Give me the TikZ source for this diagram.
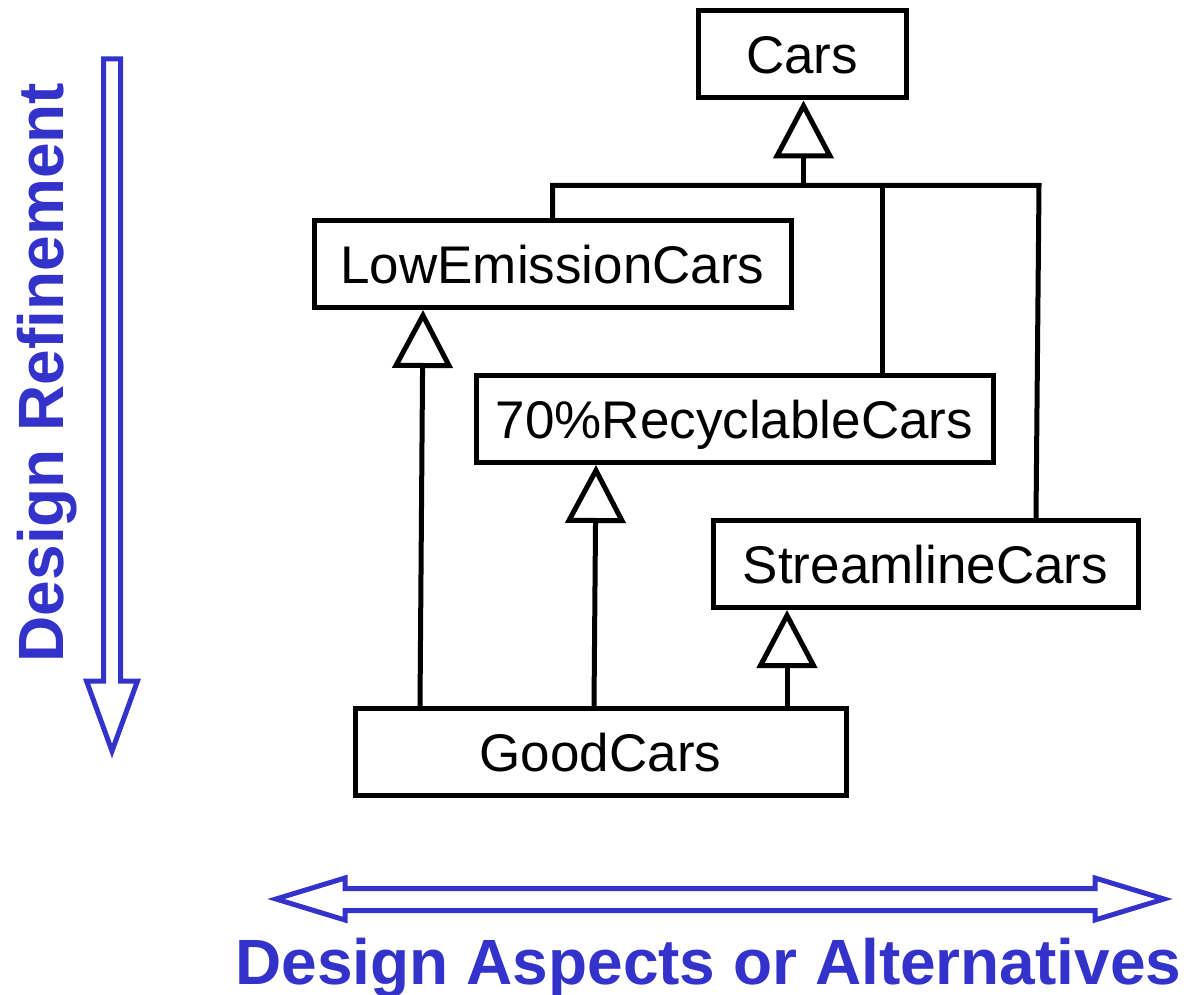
\documentclass[tikz,border=0pt]{standalone}
\usepackage{fontspec}
\setmainfont{Liberation Sans}
\usetikzlibrary{arrows.meta}
\definecolor{axisblue}{RGB}{51,51,204}
\tikzset{
  classbox/.style={draw, line width=5pt, inner sep=0pt, minimum height=87pt,
    text height=39pt, text depth=0pt, font=\fontsize{53}{60}\selectfont},
  link/.style={draw, line width=5pt},
  isa/.style={link, -{Triangle[open, length=58pt, width=60pt]}},
  bigarrow/.style={draw=axisblue, line width=5pt, line join=miter},
  axislabel/.style={text=axisblue, font=\fontsize{64}{70}\selectfont\bfseries, inner sep=0pt}
}
\begin{document}
\begin{tikzpicture}[x=1pt, y=-1pt]
  \useasboundingbox (0,0) rectangle (1184,995);

  % classes
  \node[classbox, minimum width=208pt] (cars)   at (802,54.5)   {Cars};
  \node[classbox, minimum width=477pt] (low)    at (552.5,264)  {LowEmissionCars};
  \node[classbox, minimum width=517pt] (rec)    at (734.5,419)  {70\%RecyclableCars};
  \node[classbox, minimum width=425pt] (stream) at (925.5,564)  {StreamlineCars};
  \node[classbox, minimum width=491pt] (good)   at (600.5,752)  {GoodCars};

  % generalisation tree under Cars
  \coordinate (j)  at (803.5,185.5);
  \coordinate (ra) at (1039,185.5);
  \coordinate (rb) at (882,185.5);
  \draw[isa] (j) -- ([xshift=1.5pt]cars.south);
  \draw[link] (low.north) |- (ra) -- ([xshift=110.5pt]stream.north);
  \draw[link] (rb) -- (rb |- rec.north);

  % GoodCars specialises the three aspects
  \draw[isa] ([xshift=-180.5pt]good.north) -- ([xshift=-129.5pt]low.south);
  \draw[isa] ([xshift=-6.5pt]good.north) -- ([xshift=-138.5pt]rec.south);
  \draw[isa] ([xshift=186.5pt]good.north) -- ([xshift=-138.5pt]stream.south);

  % refinement axis
  \draw[bigarrow] (103.5,59) -- (120.5,59) -- (120.5,681) -- (137.5,681)
    -- (112,751) -- (86.5,681) -- (103.5,681) -- cycle;
  \node[axislabel, rotate=90, anchor=base] (refine) at (63,372.5) {Design Refinement};

  % alternatives axis
  \draw[bigarrow] (276,899) -- (345,878) -- (345,888.5) -- (1095,888.5) -- (1095,878)
    -- (1164,899) -- (1095,920) -- (1095,910.5) -- (345,910.5) -- (345,920) -- cycle;
  \node[axislabel, anchor=base] (alt) at (708.5,984) {Design Aspects or Alternatives};
\end{tikzpicture}
\end{document}
